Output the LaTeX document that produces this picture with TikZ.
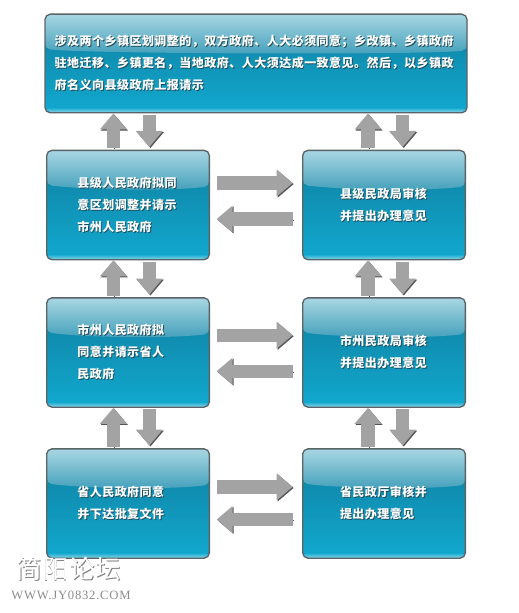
\documentclass[tikz,border=0pt]{standalone}
\usepackage{fontspec}
\newfontfamily\cjkfont[LetterSpace=4]{Noto Sans CJK SC}
\newfontfamily\urlfont[LetterSpace=6]{Liberation Serif}
\usetikzlibrary{arrows.meta}
\definecolor{bandtop}{HTML}{A8D6E2}
\definecolor{bandlow}{HTML}{429FBA}
\definecolor{bodytop}{HTML}{0E7E9F}
\definecolor{bodylow}{HTML}{12A9CF}
\definecolor{bodyrim}{HTML}{8ED6E6}
\definecolor{boxline}{HTML}{5A6468}
\definecolor{textshade}{HTML}{1F4F5F}
\definecolor{arrowgray}{HTML}{A3A3A3}
\definecolor{arrowdark}{HTML}{555555}
\newcommand{\shtext}[1]{\leavevmode\raisebox{1pt}{\rlap{\raisebox{-0.8pt}{\kern0.7pt\textcolor{textshade}{#1}}}#1}}
\tikzset{
	glassbox/.style={draw=boxline,line width=1pt,rounded corners=4pt,inner sep=0pt,
		minimum width=122pt,minimum height=82pt,align=left,text=white,text width=66pt,
		font=\cjkfont\bfseries\fontsize{9}{16.5}\selectfont,
		path picture={
			\shade[top color=bodytop,bottom color=bodylow] (path picture bounding box.north west) rectangle (path picture bounding box.south east);
			\shade[top color=bodylow,bottom color=bodyrim] ([yshift=4pt]path picture bounding box.south west) rectangle (path picture bounding box.south east);
			\shade[top color=bandtop,bottom color=bandlow] (path picture bounding box.north west) -- (path picture bounding box.north east) -- ++(0,36) .. controls +(-40,5) and +(40,5) .. ([yshift=-26pt]path picture bounding box.north west) -- cycle;
		}},
	blockarrow/.style={line width=10pt,draw=arrowgray,-{Triangle[width=19.5pt,length=12pt]},
		preaction={draw=arrowdark,transform canvas={shift={(0.8pt,-0.8pt)}}}}
}
\begin{document}
\begin{tikzpicture}[x=0.75pt,y=-0.75pt]
		\useasboundingbox (0,0) rectangle (518,613);
		\node[glassbox,minimum width=316.5pt,minimum height=74pt,text width=302pt] (top) at (256,63.5) {\shtext{涉及两个乡镇区划调整的，双方政府、人大必须同意；乡改镇、乡镇政府}\\\shtext{驻地迁移、乡镇更名，当地政府、人大须达成一致意见。然后，以乡镇政}\\\shtext{府名义向县级政府上报请示}};
		\node[glassbox,text width=76pt] (countygov) at (128,205) {\shtext{县级人民政府拟同}\\\shtext{意区划调整并请示}\\\shtext{市州人民政府}};
		\node[glassbox,text width=76pt] (citygov) at (128,352.5) {\shtext{市州人民政府拟}\\\shtext{同意并请示省人}\\\shtext{民政府}};
		\node[glassbox,text width=76pt] (provgov) at (128,503.5) {\shtext{省人民政府同意}\\\shtext{并下达批复文件}};
		\node[glassbox] (countydept) at (384,205) {\shtext{县级民政局审核}\\\shtext{并提出办理意见}};
		\node[glassbox] (citydept) at (384,352.5) {\shtext{市州民政局审核}\\\shtext{并提出办理意见}};
		\node[glassbox] (provdept) at (384,503.5) {\shtext{省民政厅审核并}\\\shtext{提出办理意见}};
		% up and down, left column
		\draw[blockarrow,shorten <=1pt] ([xshift=-11pt]countygov.north) -- ([xshift=-11pt]countygov.north |- top.south);
		\draw[blockarrow,shorten <=1pt,shorten >=2pt] ([xshift=16pt]countygov.north |- top.south) -- ([xshift=16pt]countygov.north);
		\draw[blockarrow,shorten <=1pt] ([xshift=-11pt]citygov.north) -- ([xshift=-11pt]citygov.north |- countygov.south);
		\draw[blockarrow,shorten <=1pt,shorten >=2pt] ([xshift=16pt]citygov.north |- countygov.south) -- ([xshift=16pt]citygov.north);
		\draw[blockarrow,shorten <=1pt] ([xshift=-11pt]provgov.north) -- ([xshift=-11pt]provgov.north |- citygov.south);
		\draw[blockarrow,shorten <=1pt,shorten >=2pt] ([xshift=16pt]provgov.north |- citygov.south) -- ([xshift=16pt]provgov.north);
		% up and down, right column
		\draw[blockarrow,shorten <=1pt] ([xshift=-12pt]countydept.north) -- ([xshift=-12pt]countydept.north |- top.south);
		\draw[blockarrow,shorten <=1pt,shorten >=2pt] ([xshift=14pt]countydept.north |- top.south) -- ([xshift=14pt]countydept.north);
		\draw[blockarrow,shorten <=1pt] ([xshift=-12pt]citydept.north) -- ([xshift=-12pt]citydept.north |- countydept.south);
		\draw[blockarrow,shorten <=1pt,shorten >=2pt] ([xshift=14pt]citydept.north |- countydept.south) -- ([xshift=14pt]citydept.north);
		\draw[blockarrow,shorten <=1pt] ([xshift=-12pt]provdept.north) -- ([xshift=-12pt]provdept.north |- citydept.south);
		\draw[blockarrow,shorten <=1pt,shorten >=2pt] ([xshift=14pt]provdept.north |- citydept.south) -- ([xshift=14pt]provdept.north);
		% across
		\draw[blockarrow,shorten <=5pt,shorten >=7pt] ([yshift=16.5pt]countygov.east) -- ([yshift=16.5pt]countydept.west);
		\draw[blockarrow,shorten <=7pt,shorten >=5pt] ([yshift=-10.5pt]countydept.west) -- ([yshift=-10.5pt]countygov.east);
		\draw[blockarrow,shorten <=5pt,shorten >=7pt] ([yshift=13pt]citygov.east) -- ([yshift=13pt]citydept.west);
		\draw[blockarrow,shorten <=7pt,shorten >=5pt] ([yshift=-14pt]citydept.west) -- ([yshift=-14pt]citygov.east);
		\draw[blockarrow,shorten <=5pt,shorten >=7pt] ([yshift=12.5pt]provgov.east) -- ([yshift=12.5pt]provdept.west);
		\draw[blockarrow,shorten <=7pt,shorten >=5pt] ([yshift=-12pt]provdept.west) -- ([yshift=-12pt]provgov.east);
		% site mark
		\node[text=gray,font=\cjkfont\fontsize{19}{19}\selectfont] at (69.7,569.7) {简阳论坛};
		\node[text=white,font=\cjkfont\fontsize{19}{19}\selectfont] (mark) at (69,569) {简阳论坛};
		\node[text=black!45,font=\urlfont\fontsize{9.5}{10}\selectfont] (site) at (71,595) {WWW.JY0832.COM};
\end{tikzpicture}
\end{document}
